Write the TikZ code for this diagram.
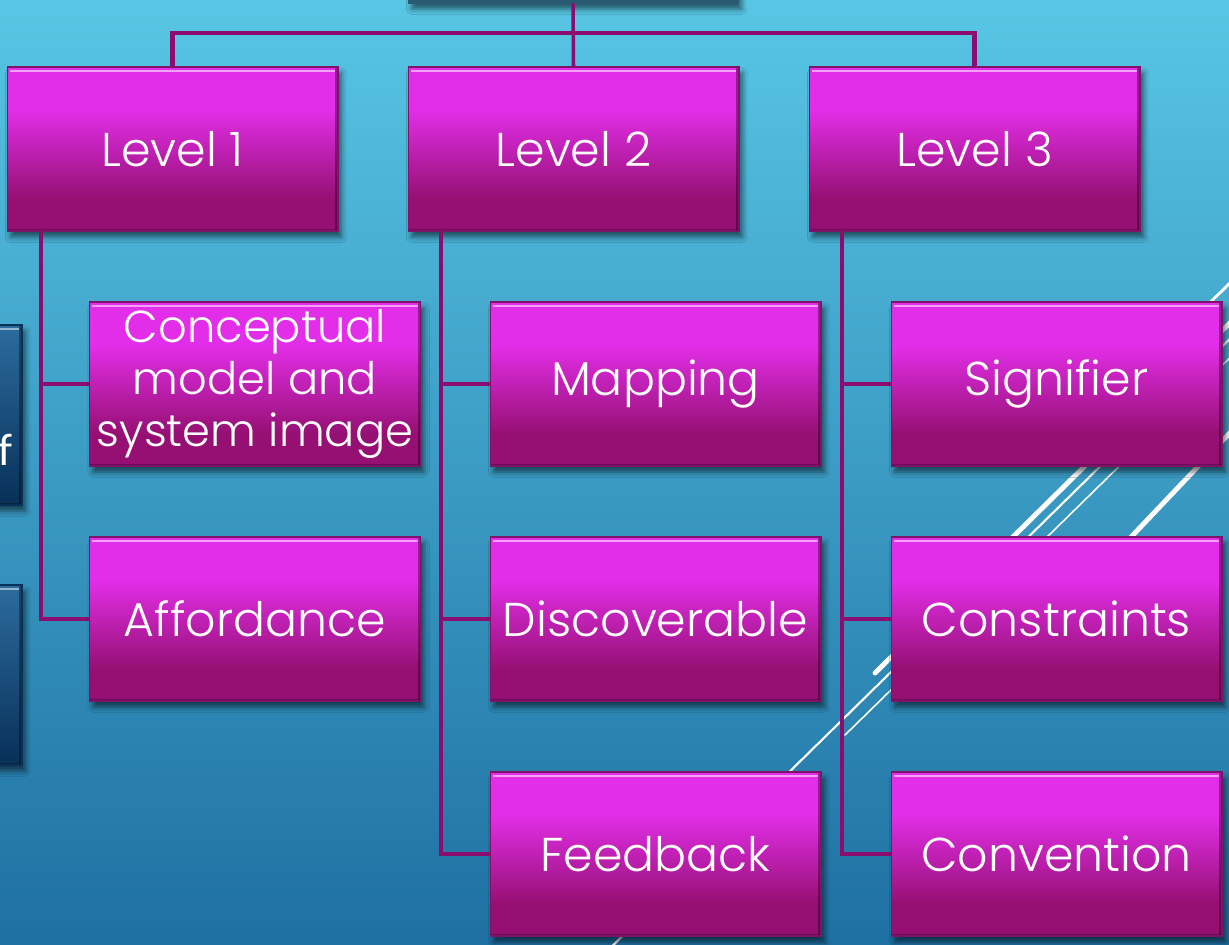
\documentclass[tikz,border=0pt]{standalone}
\usepackage{fontspec}
\IfFontExistsTF{Poppins Light}{\setmainfont{Poppins Light}}{\setmainfont{Poppins}}
\newfontfamily\calib{Carlito}
\usetikzlibrary{shadows.blur,calc}
\definecolor{bgtop}{RGB}{88,198,228}
\definecolor{bgbot}{RGB}{30,112,162}
\definecolor{mtop}{RGB}{226,46,232}
\definecolor{mbot}{RGB}{150,16,116}
\definecolor{medge}{RGB}{125,20,105}
\definecolor{conncol}{RGB}{140,12,112}
\definecolor{btop}{RGB}{44,108,158}
\definecolor{bbot}{RGB}{8,48,88}
\definecolor{topfill}{RGB}{40,90,115}
\pgfdeclareverticalshading{magshade}{100bp}{color(0bp)=(mbot); color(25bp)=(mbot); color(35bp)=(mbot); color(62bp)=(mtop); color(75bp)=(mtop); color(100bp)=(mtop)}
\pgfdeclareverticalshading{blushade}{100bp}{color(0bp)=(bbot); color(25bp)=(bbot); color(75bp)=(btop); color(100bp)=(btop)}
\tikzset{
  shad/.style={blur shadow={shadow xshift=2pt, shadow yshift=-3.5pt, shadow blur radius=3pt, shadow opacity=55}},
  bevel/.style={path picture={
      \draw[line width=1.2pt, draw=#1] ([yshift=-2.2pt,xshift=1.5pt]path picture bounding box.north west) -- ([yshift=-2.2pt,xshift=-1.5pt]path picture bounding box.north east);
      \draw[line width=1.4pt, draw=black, opacity=0.35] ([xshift=-0.8pt]path picture bounding box.north east) -- ([xshift=-0.8pt]path picture bounding box.south east);
      \draw[line width=1pt, draw=black, opacity=0.25] ([yshift=0.6pt]path picture bounding box.south west) -- ([yshift=0.6pt]path picture bounding box.south east);}},
  box/.style={shading=magshade, draw=medge, line width=0.6pt, minimum width=6.62cm, minimum height=3.28cm,
      text=white, font=\fontsize{27}{29.5}\selectfont, align=center, inner sep=0pt, shad, bevel={mtop!45!white}},
  bluebox/.style={shading=blushade, draw=bbot, line width=0.6pt, minimum width=1.24cm, minimum height=3.6cm,
      inner sep=0pt, shad, bevel={btop!50!white}},
  conn/.style={draw=conncol, line width=2pt},
  bar/.style={draw=conncol, line width=2.4pt},
  deco/.style={draw=white, line cap=round}
}
\begin{document}
\begin{tikzpicture}[x=0.02cm, y=-0.02cm]
\useasboundingbox (0,0) rectangle (1229,945);
\clip (0,0) rectangle (1229,945);
\shade[top color=bgtop, bottom color=bgbot] (0,0) rectangle (1229,945);

% decorative diagonal lines
\draw[deco, line width=1.6pt] (1245,268) -- (1150,362);
\draw[deco, line width=2.8pt] (875,673) -- (1245,308);
\draw[deco, line width=1.2pt] (598,960) -- (1245,324);
\draw[deco, line width=0.9pt] (845,735) -- (1245,343);
\draw[deco, line width=2.8pt] (1000,675) -- (1245,417);

% top box (mostly off the page)
\node[fill=topfill, draw=topfill, minimum width=6.6cm, minimum height=1.2cm, shad] (top) at (573,-27) {};

% left dark boxes
\node[bluebox] (lb1) at (-9,415) {};
\node[bluebox] (lb2) at (-9,675) {};
\node[font=\calib\fontsize{26}{28}\selectfont, text=white, anchor=base east, inner sep=0pt] (ftxt) at (13,465) {f};

% level boxes
\node[box] (L1) at (172.5,149) {Level 1};
\node[box] (L2) at (573.5,149) {Level 2};
\node[box] (L3) at (974.5,149) {Level 3};

% children
\node[box, font=\fontsize{25.5}{29.5}\selectfont] (c11) at (255,384) {Conceptual\\model and\\system image};
\node[box] (c12) at (255,619) {Affordance};
\node[box] (c21) at (655.5,384) {Mapping};
\node[box] (c22) at (655.5,619) {Discoverable};
\node[box] (c23) at (655.5,854) {Feedback};
\node[box] (c31) at (1056.5,384) {Signifier};
\node[box] (c32) at (1056.5,619) {Constraints};
\node[box] (c33) at (1056.5,854) {Convention};

% connectors
\coordinate (bar) at (573.5,33);
\draw[conn] (top.south) -- (L2.north);
\draw[bar] (L1.north) |- (bar) -| (L3.north);

\coordinate (t1) at (41,231);
\coordinate (t2) at (441,231);
\coordinate (t3) at (842,231);
\draw[conn] (t1) |- (c12.west);
\draw[conn] (t1 |- c11.west) -- (c11.west);
\draw[conn] (t2) |- (c23.west);
\draw[conn] (t2 |- c21.west) -- (c21.west);
\draw[conn] (t2 |- c22.west) -- (c22.west);
\draw[conn] (t3) |- (c33.west);
\draw[conn] (t3 |- c31.west) -- (c31.west);
\draw[conn] (t3 |- c32.west) -- (c32.west);
\end{tikzpicture}
\end{document}
